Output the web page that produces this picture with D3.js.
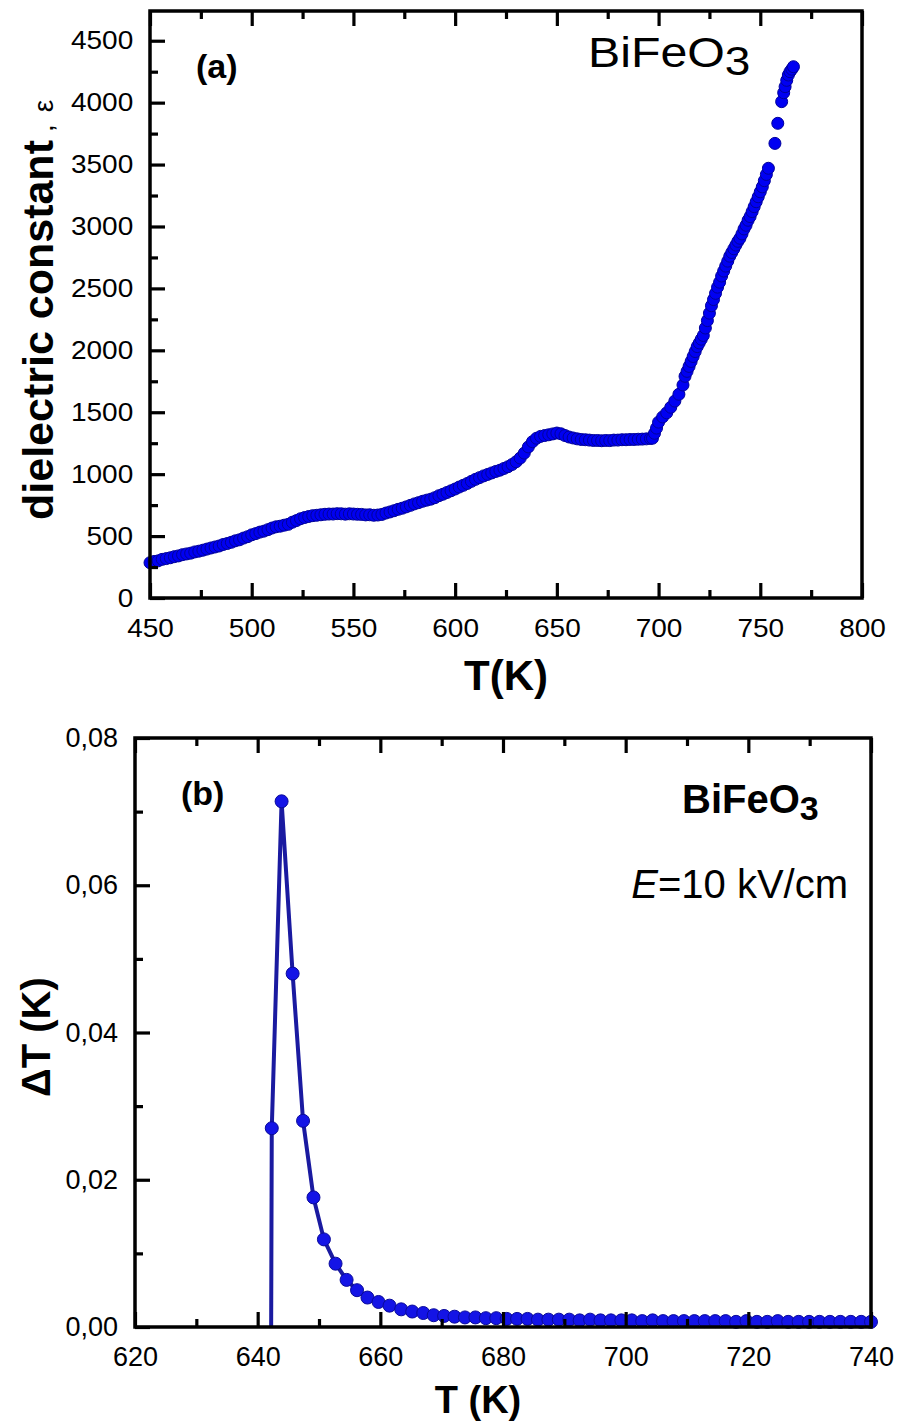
<!DOCTYPE html>
<html>
<head>
<meta charset="utf-8">
<script src="https://cdn.jsdelivr.net/npm/d3@7"></script>
<style>
  body { margin: 0; background: #fff; }
  svg { display: block; }
  text { font-family: "Liberation Sans", Arial, sans-serif; fill: #000; }
</style>
</head>
<body>
<div id="chart"></div>
<script>
// ---- panel (a): dielectric constant vs T ----
const tempA = [450,452,454,456,458,460,462,464,466,468,470,472,474,476,478,480,482,484,486,488,
  490,492,494,496,498,500,502,504,506,508,510,512,514,516,518,520,522,524,526,528,
  530,532,534,536,538,540,542,544,546,548,550,552,554,556,558,560,562,564,566,568,
  570,572,574,576,578,580,582,584,586,588,590,592,594,596,598,600,602,604,606,608,
  610,612,614,616,618,620,622,624,626,628,630,632,634,636,638,640,642,644,646,648,
  650,652,654,656,658,660,662,664,666,668,670,672,674,676,678,680,682,684,686,688,
  690,692,694,696,697,698,699,700,702,704,706,708,710,712,713,714,715,716,717,718,
  719,720,721,722,723,724,725,726,727,728,729,730,731,732,733,734,735,736,737,738,
  739,740,741,742,743,744,745,746,747,748,749,750,751,752,753,754,757.2,758.6,760.5,761.5,
  762.2,763,763.8,764.6,765.5,766.3];
const epsA = [285,295,300,312,318,325,334,340,350,356,362,372,378,386,395,404,412,420,432,440,
  450,462,470,484,495,510,520,532,540,552,565,575,580,588,595,612,625,640,650,658,
  665,668,672,676,678,678,681,680,677,680,678,676,675,671,672,668,670,675,686,695,
  705,716,725,736,748,760,770,781,790,798,810,826,838,852,866,880,896,910,925,942,
  958,972,986,998,1010,1022,1032,1046,1060,1078,1100,1130,1170,1220,1262,1290,1305,1312,1318,1325,
  1332,1326,1312,1300,1292,1285,1280,1278,1275,1272,1272,1270,1272,1271,1275,1275,1278,1278,1280,1280,
  1282,1283,1285,1288,1290,1330,1372,1420,1462,1495,1540,1590,1645,1720,1790,1830,1870,1910,1950,1990,
  2030,2060,2090,2120,2180,2240,2300,2360,2410,2460,2510,2550,2600,2640,2680,2720,2760,2790,2820,2850,
  2880,2905,2940,2980,3010,3050,3080,3120,3160,3200,3240,3280,3320,3370,3420,3470,3671,3833,4008,4080,
  4129,4180,4223,4250,4270,4290];
const xTicksA = [450,500,550,600,650,700,750,800];
const yTicksA = [0,500,1000,1500,2000,2500,3000,3500,4000,4500];

// ---- panel (b): electrocaloric dT vs T ----
const tempB = [642.2,642.3,643.9,645.7,647.4,649.1,650.8,652.7,654.5,656.2,657.9,659.7,661.5,663.4,665.2,667.0,
  668.7,670.4,672.1,673.8,675.5,677.2,678.9,680.6,682.3,684.0,685.7,687.4,689.1,690.8,692.5,694.2,
  695.9,697.6,699.3,701.0,702.7,704.4,706.1,707.8,709.5,711.2,712.9,714.6,716.3,718.0,719.7,721.4,
  723.1,724.8,726.5,728.2,729.9,731.6,733.3,735.0,736.7,738.4,740.0];
const dTB = [0,0.027,0.0714,0.048,0.028,0.0176,0.0119,0.0086,0.0064,0.0050,0.0040,0.0034,0.0029,0.0024,0.0021,0.0019,
  0.0016,0.0015,0.0014,0.0013,0.0013,0.0012,0.0012,0.0011,0.0011,0.0011,0.0010,0.0010,0.0010,0.0010,0.0009,0.0010,
  0.0009,0.0009,0.0009,0.0009,0.0008,0.0009,0.0008,0.0008,0.0008,0.0008,0.0008,0.0008,0.0008,0.0007,0.0008,0.0007,
  0.0007,0.0008,0.0007,0.0007,0.0007,0.0007,0.0007,0.0007,0.0007,0.0007,0.0007];
const xTicksB = [620,640,660,680,700,720,740];
const yTicksB = [0,0.02,0.04,0.06,0.08];

const svg = d3.select("#chart").append("svg")
    .attr("width", 897)
    .attr("height", 1422);

// frame + inward ticks on bottom, top and left
function drawAxes(g, x, y, opts) {
    const [x0, x1] = x.range();
    const [y0, y1] = y.range();

    const bottom = d3.axisBottom(x).tickValues(opts.xMajor).tickSize(-15).tickPadding(opts.xPad)
        .tickFormat(opts.xFmt);
    const bottomMinor = d3.axisBottom(x).tickValues(opts.xMinor).tickSize(-8).tickFormat("");
    const top = d3.axisTop(x).tickValues(opts.xMajor).tickSize(-15).tickFormat("");
    const topMinor = d3.axisTop(x).tickValues(opts.xMinor).tickSize(-8).tickFormat("");
    const left = d3.axisLeft(y).tickValues(opts.yMajor).tickSize(-15).tickPadding(opts.yPad)
        .tickFormat(opts.yFmt);
    const leftMinor = d3.axisLeft(y).tickValues(opts.yMinor).tickSize(-8).tickFormat("");

    const axes = [
        [bottom, `translate(0,${y0})`],
        [bottomMinor, `translate(0,${y0})`],
        [top, `translate(0,${y1})`],
        [topMinor, `translate(0,${y1})`],
        [left, `translate(${x0},0)`],
        [leftMinor, `translate(${x0},0)`]
    ];
    axes.forEach(([ax, tr]) => {
        const a = g.append("g").attr("transform", tr).call(ax);
        a.select(".domain").remove();
        a.selectAll("line").attr("stroke", "#000").attr("stroke-width", 3.2);
        a.selectAll("text")
            .attr("font-family", "Liberation Sans, Arial, sans-serif")
            .attr("font-size", opts.fontSize)
            .attr("fill", "#000")
            .attr("transform", `scale(${opts.stretch},1)`);
    });

    g.append("rect")
        .attr("x", x0).attr("y", y1)
        .attr("width", x1 - x0).attr("height", y0 - y1)
        .attr("fill", "none")
        .attr("stroke", "#000")
        .attr("stroke-width", 3.5);
}

// ---------- panel (a) ----------
const xA = d3.scaleLinear().domain([450, 800]).range([150, 862]);
const yA = d3.scaleLinear().domain([0, 4740]).range([598, 11]);
const gA = svg.append("g");

gA.append("g").selectAll("circle")
    .data(d3.zip(tempA, epsA))
    .join("circle")
    .attr("cx", d => xA(d[0]))
    .attr("cy", d => yA(d[1]))
    .attr("r", 6)
    .attr("fill", "#0000f2")
    .attr("stroke", "#00009a")
    .attr("stroke-width", 1);

drawAxes(gA, xA, yA, {
    xMajor: xTicksA, xMinor: [475,525,575,625,675,725,775],
    yMajor: yTicksA, yMinor: [250,750,1250,1750,2250,2750,3250,3750,4250],
    xFmt: d3.format("d"), yFmt: d3.format("d"),
    xPad: 21, yPad: 15, fontSize: 25, stretch: 1.12
});

gA.append("text")
    .attr("transform", "translate(53,520) rotate(-90)")
    .attr("font-weight", "bold")
    .attr("font-size", 43)
    .text("dielectric constant")
    .append("tspan")
    .attr("font-weight", "normal")
    .attr("font-size", 28)
    .attr("dx", 8)
    .text(",")
    .clone(true)
    .attr("dx", 12)
    .text("ε");

gA.append("text")
    .attr("x", 506).attr("y", 690)
    .attr("text-anchor", "middle")
    .attr("font-weight", "bold")
    .attr("font-size", 42)
    .text("T(K)");

gA.append("text")
    .attr("x", 196).attr("y", 78)
    .attr("font-weight", "bold")
    .attr("font-size", 34)
    .text("(a)");

const labA = gA.append("text")
    .attr("transform", "translate(588,67) scale(1.15,1)")
    .attr("font-size", 42)
    .text("BiFeO");
labA.append("tspan").attr("dy", 8).attr("font-size", 40).text("3");

// ---------- panel (b) ----------
const xB = d3.scaleLinear().domain([620, 740]).range([135, 871]);
const yB = d3.scaleLinear().domain([0, 0.08]).range([1327, 738]);
const gB = svg.append("g");
const ptsB = d3.zip(tempB, dTB);

gB.append("path")
    .datum(ptsB)
    .attr("fill", "none")
    .attr("stroke", "#1a1aa0")
    .attr("stroke-width", 4)
    .attr("d", d3.line().x(d => xB(d[0])).y(d => yB(d[1])));

gB.append("g").selectAll("circle")
    .data(ptsB.filter(d => d[1] > 0))
    .join("circle")
    .attr("cx", d => xB(d[0]))
    .attr("cy", d => yB(d[1]))
    .attr("r", 6.5)
    .attr("fill", "#1414e6")
    .attr("stroke", "#0a0a9a")
    .attr("stroke-width", 1);

const commaFmt = d => d3.format(".2f")(d).replace(".", ",");
drawAxes(gB, xB, yB, {
    xMajor: xTicksB, xMinor: [630,650,670,690,710,730],
    yMajor: yTicksB, yMinor: [0.01,0.03,0.05,0.07],
    xFmt: d3.format("d"), yFmt: commaFmt,
    xPad: 20, yPad: 17, fontSize: 27, stretch: 1.0
});

gB.append("text")
    .attr("transform", "translate(50,1097) rotate(-90)")
    .attr("font-weight", "bold")
    .attr("font-size", 40)
    .text("ΔT (K)");

gB.append("text")
    .attr("x", 478).attr("y", 1413)
    .attr("text-anchor", "middle")
    .attr("font-weight", "bold")
    .attr("font-size", 38)
    .text("T (K)");

gB.append("text")
    .attr("x", 181).attr("y", 805)
    .attr("font-weight", "bold")
    .attr("font-size", 34)
    .text("(b)");

const labB = gB.append("text")
    .attr("x", 682).attr("y", 813)
    .attr("font-weight", "bold")
    .attr("font-size", 40)
    .text("BiFeO");
labB.append("tspan").attr("dy", 7).attr("font-size", 34).text("3");

const fieldLab = gB.append("text")
    .attr("x", 848).attr("y", 898)
    .attr("text-anchor", "end")
    .attr("font-size", 40);
fieldLab.append("tspan").attr("font-style", "italic").text("E");
fieldLab.append("tspan").text("=10 kV/cm");
</script>
</body>
</html>
